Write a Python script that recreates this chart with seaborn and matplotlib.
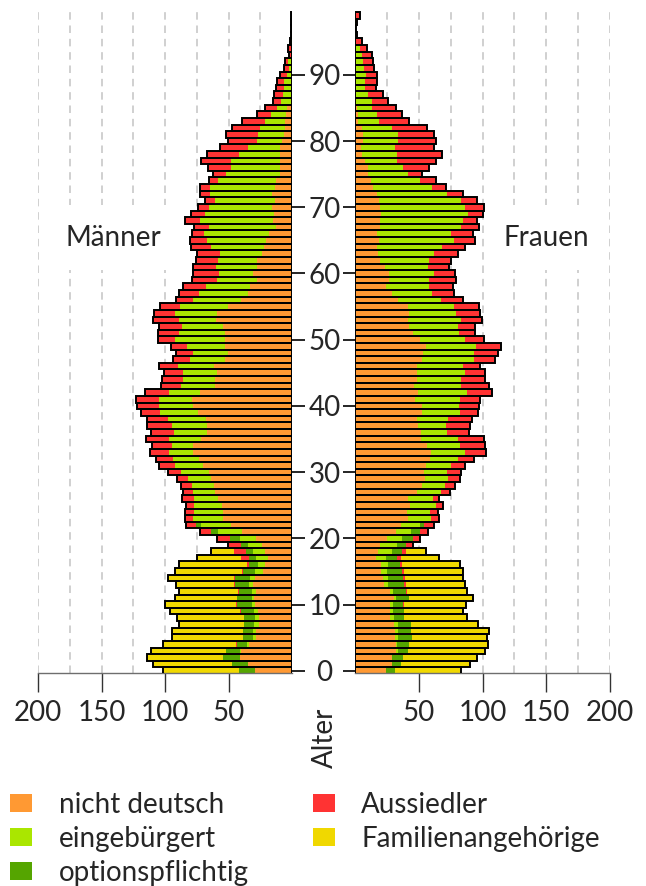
import numpy as np
import pandas as pd
import matplotlib
matplotlib.use("Agg")
import matplotlib.pyplot as plt
from matplotlib.patches import Patch
import seaborn as sns

ages = list(range(100))
categories = ["nicht deutsch", "eingebürgert", "optionspflichtig", "Aussiedler", "Familienangehörige"]
colors = ["#FF9933", "#AAE600", "#55A500", "#FF3333", "#F0D800"]

# ---- Männer ----
m_nicht_deutsch = [
    29, 34.3, 40.9, 40, 33.8, 28.3, 28.6, 26.2, 26, 27,
    29, 29.6, 28.6, 30.9, 28.8, 22.8, 21.2, 19.1, 21.5, 24,
    28.3, 39.3, 47.7, 54.5, 54, 55, 58, 60.8, 61.8, 63.7,
    65.3, 70, 73, 77.8, 77.8, 71.5, 66.8, 66.8, 68, 74,
    77.6, 79, 72.6, 60.5, 60.5, 59, 61.6, 52.7, 50.3, 52.4,
    52.7, 52.4, 54.2, 59.5, 58.7, 50.3, 39.8, 34.6, 33, 27.8,
    30.7, 27.8, 27.5, 23.3, 22, 20.7, 18, 12.8, 14.7, 13.9,
    15.7, 13.4, 15.5, 13.4, 12.6, 9.4, 9.4, 9.4, 9.4, 9.4,
    7.6, 6.3, 5.2, 5.2, 4.7, 3.9, 0.8, 0.5, 0.3, 0.3,
    0.2, 0.2, 0.2, 0, 0, 0, 0, 0, 0, 0]
m_eingebuergert = [
    0, 0, 0, 1.3, 1.8, 2.6, 2.1, 3.4, 3.1, 2.9,
    2.6, 2.1, 2.6, 2.9, 4.2, 6.3, 5.8, 8.9, 8.9, 10.7,
    12.6, 18.6, 23.8, 23.8, 23, 22.5, 18.9, 16.8, 17.3, 18.3,
    22, 22.5, 20.7, 19.4, 16.8, 25, 26, 28, 29.4, 30,
    27, 25.7, 24, 26.7, 25, 27, 28.3, 28, 28, 30,
    39.6, 36.4, 32.8, 29.4, 33.3, 37.5, 38, 38.5, 34.9, 31.2,
    26.7, 32, 30.7, 33.5, 41.7, 46.6, 51, 52.4, 57.6, 54.8,
    49.5, 47, 49.3, 51.4, 46, 42.5, 38.5, 38.5, 32.2, 25.4,
    20.2, 20.7, 20.2, 16.2, 12, 7.6, 7.9, 6.8, 5.8, 5.8,
    3.7, 2.1, 2.6, 0.8, 0.8, 0.5, 0.5, 0.3, 0.2, 0.2]
m_optionspflichtig = [
    12.6, 12.6, 13.1, 10.5, 7.6, 7.3, 7.6, 7.9, 8.4, 10.2,
    11.8, 11.8, 10.7, 11, 11.5, 9.2, 7.1, 5.8, 6, 5.2,
    7.9, 5.8, 4.2, 0, 0, 0, 0, 0, 0, 0] + [0] * 70
m_aussiedler = [
    0, 0, 0, 0, 0.8, 0, 0, 0, 0, 0.8,
    0.8, 0, 0.8, 0.5, 1, 0.8, 1.6, 6, 9.2, 10.2,
    10, 8.4, 7.9, 6.3, 7, 6.3, 9.4, 8.6, 8.6, 8.4,
    10.5, 12, 13.6, 15, 15.5, 18.3, 18.6, 19.6, 17, 14.7,
    17.6, 18, 19.4, 16, 16.5, 15, 14.7, 13, 12.8, 12.6,
    13.6, 17, 17.6, 20.4, 16.5, 16, 13.6, 16, 18, 19.6,
    20.4, 17.8, 17, 17.8, 15.5, 12.8, 9.7, 11.8, 12, 10.7,
    8.9, 8.4, 7.9, 7.9, 6.8, 10.2, 18.3, 23.8, 25, 22,
    22.5, 24.6, 21.8, 17.6, 11, 9.4, 6, 7.1, 6.8, 6,
    5.5, 4.2, 2.9, 1.3, 2.1, 1.3, 0.5, 0.5, 0.3, 0.3]
m_familie = [
    60, 62.6, 60, 59, 57.6, 56.3, 55.8, 51.4, 53.2, 55,
    55.8, 49, 46.1, 46, 52, 53, 53.5, 34.9, 18, 0] + [0] * 80

# ---- Frauen ----
f_nicht_deutsch = [
    24.1, 28.8, 29.4, 32.2, 32, 31.4, 31.4, 30.7, 27.5, 27.5,
    27.5, 30.7, 27.5, 22.5, 21.8, 20.4, 20.4, 16.5, 18.3, 19.7,
    24.9, 32, 36.2, 41.7, 40.6, 43.2, 41.9, 49, 52.4, 55,
    54.2, 55.8, 59, 59.7, 56.3, 51.9, 51.9, 49.8, 49, 52.4,
    52.4, 47.2, 49.3, 46.4, 48.7, 48.7, 48.7, 52.9, 53.7, 56,
    51.1, 45.6, 42.5, 41.4, 42.5, 41.9, 34, 28.8, 24.4, 27,
    27, 23.6, 19.7, 18.3, 17.6, 18.9, 17.6, 19.7, 19.7, 20.2,
    19.7, 18.9, 17, 14.4, 12.6, 10.5, 10.5, 7.9, 5.2, 4.5,
    6, 6, 5.8, 2.6, 2.6, 1.3, 0.5, 0.5, 0.5, 0.5,
    0.5, 0.5, 0.5, 0.5, 0.3, 0.3, 0.3, 0.3, 0.3, 0.8]
f_eingebuergert = [
    0, 0, 0, 1.3, 1, 2.6, 2.6, 3.1, 3.1, 2.6,
    2.6, 1.3, 2.6, 3.1, 3.7, 4.5, 5.2, 7.9, 11, 13.1,
    12.3, 12, 15, 17.8, 18.3, 20.2, 19.1, 18.6, 18.3, 17.6,
    17.8, 19.7, 21.5, 26.7, 26.2, 28.6, 20.4, 21.2, 23.8, 29.6,
    29.4, 34.9, 38.5, 37, 34.6, 37.7, 36.2, 40.4, 39.8, 39,
    35.4, 36.2, 38.5, 41.7, 36.9, 35.9, 33.5, 31.7, 33.3, 31.4,
    34.9, 34, 38, 44, 50.3, 59, 57.9, 63.4, 64.7, 68.1,
    66.8, 64.5, 55.3, 46, 38.5, 31, 27.5, 25.4, 28, 26.5,
    27.5, 27.5, 23.6, 16.2, 14.4, 12.3, 12.6, 9.7, 7.1, 7.3,
    7.9, 6.6, 6, 5.2, 3.4, 0.5, 0.5, 0.3, 0.3, 0.3]
f_optionspflichtig = [
    7.3, 7.3, 7.9, 8.1, 9.4, 10.5, 10, 10, 8.1, 8.4,
    7.9, 10.7, 9.7, 13.1, 11.8, 12, 9.7, 8.9, 7.3, 7.1,
    8.1, 6.6, 3.1, 0, 0, 0, 0, 0, 0, 0] + [0] * 70
f_aussiedler = [
    0, 0, 0, 0, 0, 0, 0, 0, 0, 0,
    0.5, 0, 0.8, 1, 1.6, 1.6, 1.6, 2.4, 3.1, 5.2,
    5.8, 6.3, 7.3, 6.3, 6, 5.5, 5, 7.1, 7.9, 10,
    11, 10.5, 12.6, 16.5, 19.7, 20.4, 17.3, 19.4, 18.6, 14.4,
    15.2, 15.7, 19.7, 21.5, 18.3, 15.2, 12.8, 16.8, 18.3, 19.7,
    14.9, 12.6, 12.8, 16.2, 18.9, 19.1, 17, 17.3, 18.9, 21,
    16.8, 16, 17.8, 18.3, 18, 16, 16.8, 13.9, 11.3, 11.8,
    14.4, 12.3, 12.3, 11, 12.3, 10.7, 19.7, 30.1, 34.9, 30.7,
    29.9, 28.6, 27, 23.6, 20.2, 18.6, 13.1, 11.8, 9.2, 9.2,
    9.2, 7.9, 7.9, 7.3, 5.8, 4.7, 1, 0.5, 1, 2.6]
f_familie = [
    51.6, 54.2, 58.4, 60.5, 61.6, 59, 61.3, 52.4, 49, 46,
    48.7, 49.5, 47, 46.4, 45.6, 45.9, 45.6, 30.1, 16, 0] + [0] * 80

x_ticks_left = [200, 150, 100, 50]
x_ticks_right = [50, 100, 150, 200]
y_ticks = [0, 10, 20, 30, 40, 50, 60, 70, 80, 90]

sns.set_theme(style="white")
plt.rcParams["font.family"] = ["Lato", "DejaVu Sans"]
FS = 20

fig = plt.figure(figsize=(6.46, 8.86), dpi=100)
axL = fig.add_axes([38 / 646, 0.24074, 254 / 646, 0.74910])
axR = fig.add_axes([355 / 646, 0.24074, 255 / 646, 0.74910])


def build(series):
    df = pd.DataFrame({"age": ages})
    cum = np.zeros(len(ages))
    for name, vals in zip(categories, series):
        cum = cum + np.array(vals, dtype=float)
        df[name] = cum.copy()
    return df


dfM = build([m_nicht_deutsch, m_eingebuergert, m_optionspflichtig, m_aussiedler, m_familie])
dfF = build([f_nicht_deutsch, f_eingebuergert, f_optionspflichtig, f_aussiedler, f_familie])

for ax, df in ((axL, dfM), (axR, dfF)):
    for x in range(25, 201, 25):
        ax.axvline(x, color="#c8c8c8", lw=1.2, ls=(0, (4.5, 3.5)), zorder=0)
    for name, col in reversed(list(zip(categories, colors))):
        sns.barplot(data=df, x=name, y="age", orient="h", native_scale=True,
                    color=col, saturation=1, width=1.0, linewidth=0,
                    errorbar=None, ax=ax, zorder=2)
    sns.barplot(data=df, x=categories[-1], y="age", orient="h", native_scale=True,
                color="black", fill=False, width=1.0, linewidth=1.4,
                errorbar=None, ax=ax, zorder=3)
    ax.set_ylim(-0.30, 99.95)
    ax.set_xlabel("")
    ax.set_ylabel("")
    for s in ("top", "left", "right"):
        ax.spines[s].set_visible(False)
    ax.spines["bottom"].set_color("#6e6e6e")
    ax.spines["bottom"].set_linewidth(1.0)
    ax.tick_params(axis="x", direction="out", length=13.5, width=1.0, color="#333333",
                   labelsize=FS, pad=6, bottom=True)
    ax.grid(False)
    ax.set_facecolor("none")

axL.set_xlim(200, 0)
axR.set_xlim(0, 200)
axL.set_xticks(x_ticks_left)
axL.set_xticklabels([str(v) for v in x_ticks_left])
axR.set_xticks(x_ticks_right)
axR.set_xticklabels([str(v) for v in x_ticks_right])

axL.set_yticks(y_ticks)
axL.yaxis.tick_right()
axL.tick_params(axis="y", right=True, left=False, labelright=False, labelleft=False,
                direction="out", length=9, width=1.2, color="black")

axR.set_yticks(y_ticks)
axR.set_yticklabels([str(v) for v in y_ticks])
axR.tick_params(axis="y", left=True, labelleft=True, direction="out", length=9,
                width=1.2, color="black", labelsize=FS, pad=13.0)
for lab in axR.get_yticklabels():
    lab.set_horizontalalignment("center")

bbox = dict(facecolor="white", edgecolor="none", pad=14)
axL.text(140.7, 65.4, "Männer", fontsize=FS, ha="center", va="center", bbox=bbox, zorder=1)
axR.text(150.2, 65.4, "Frauen", fontsize=FS, ha="center", va="center", bbox=bbox, zorder=1)

fig.text(325 / 646, 1 - 738 / 886, "Alter", rotation=90, fontsize=FS, ha="center", va="center")

handles = [Patch(facecolor=c, edgecolor="none") for c in colors]
fig.legend(handles, categories, ncol=2, loc="upper left",
           bbox_to_anchor=(10 / 646, 1 - 792 / 886), frameon=False, fontsize=FS,
           handlelength=0.8, handleheight=0.6, handletextpad=0.95,
           columnspacing=2.3, labelspacing=0.28, borderpad=0, borderaxespad=0)

fig.savefig("out.png", dpi=100)
